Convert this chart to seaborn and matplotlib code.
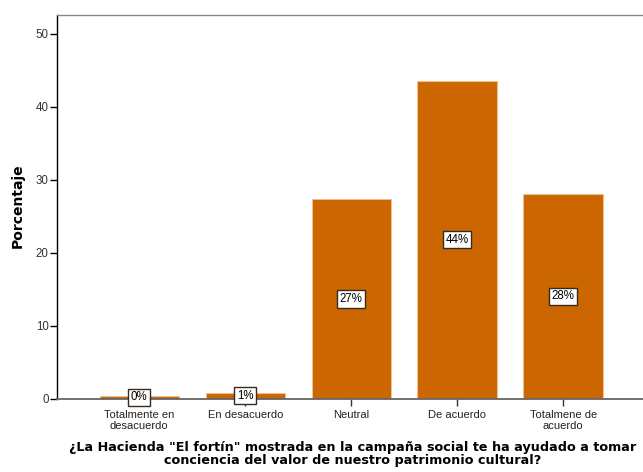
import matplotlib
matplotlib.use("Agg")
import matplotlib.pyplot as plt
import seaborn as sns
import pandas as pd

categories = ["Totalmente en\ndesacuerdo", "En desacuerdo", "Neutral",
              "De acuerdo", "Totalmene de\nacuerdo"]
percentages = [0.4, 0.7, 27.3, 43.6, 28.0]
bar_labels = ["0%", "1%", "27%", "44%", "28%"]
y_ticks = [0, 10, 20, 30, 40, 50]

sns.set_style("white")
plt.rcParams["font.family"] = ["Liberation Sans", "DejaVu Sans"]

df = pd.DataFrame({"Respuesta": categories, "Porcentaje": percentages})

fig = plt.figure(figsize=(6.43, 4.72), dpi=100)
ax = fig.add_axes([57 / 643, 73.5 / 472, 588.5 / 643, 383.5 / 472])

sns.barplot(data=df, x="Respuesta", y="Porcentaje", color="#CC6600",
            saturation=1, width=0.75, edgecolor="#F0C090", linewidth=0.8,
            ax=ax)

for i, (v, lab) in enumerate(zip(percentages, bar_labels)):
    ax.text(i, v / 2, lab, ha="center", va="center", fontsize=8.3,
            color="black",
            bbox=dict(boxstyle="square,pad=0.22", facecolor="white",
                      edgecolor="#3a2a1a", linewidth=1.0))

ax.set_xlim(-0.776, 4.776)
ax.set_ylim(0, 52.6)
ax.set_yticks(y_ticks)
ax.tick_params(axis="y", length=5, width=1, color="black", labelsize=8.3,
               labelcolor="#333333", left=True, pad=1)
ax.tick_params(axis="x", length=5, width=1, color="#333333", labelsize=8,
               labelcolor="#222222", bottom=True, pad=3)

for side in ["top", "right"]:
    ax.spines[side].set_color("#888888")
    ax.spines[side].set_linewidth(1)
ax.spines["left"].set_color("black")
ax.spines["left"].set_linewidth(1)
ax.spines["bottom"].set_color("#666666")
ax.spines["bottom"].set_linewidth(1.3)

ax.set_ylabel("Porcentaje", fontsize=10, fontweight="bold",
              family="DejaVu Sans", color="black")
ax.yaxis.set_label_coords(-32 / 588.5, (472 - 206 - 73.5) / 383.5)
ax.set_xlabel("¿La Hacienda \"El fortín\" mostrada en la campaña social te ha ayudado a tomar\n"
              "conciencia del valor de nuestro patrimonio cultural?",
              fontsize=9.2, fontweight="bold", family="DejaVu Sans",
              color="black", linespacing=1.0)
ax.xaxis.set_label_coords(0.503, -(441 - 398.5) / 383.5)
ax.xaxis.label.set_va("top")

fig.savefig("out.png", dpi=100)
